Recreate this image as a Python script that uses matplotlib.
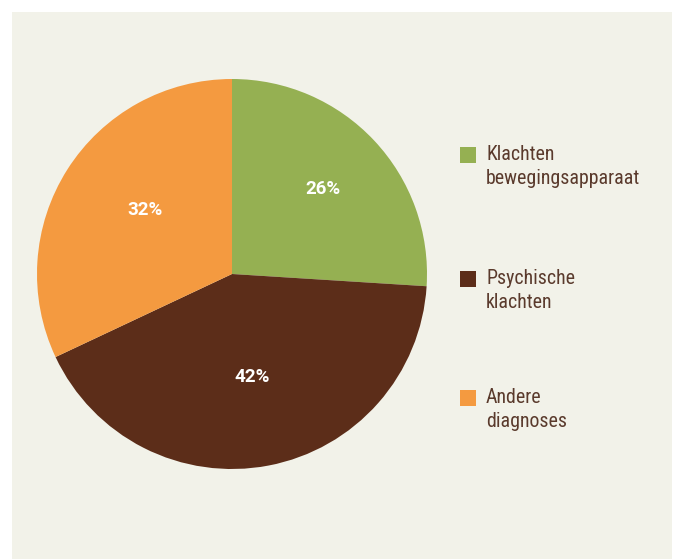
import numpy as np
import matplotlib.pyplot as plt
from matplotlib.patches import Rectangle

# data
categories = ["Klachten\nbewegingsapparaat", "Psychische\nklachten", "Andere\ndiagnoses"]
shares = [26, 42, 32]
colors = ["#95b052", "#5c2d19", "#f49a40"]

bg = "#f2f2e9"
text_color = "#5a3a2c"
plt.rcParams['font.family'] = ['Roboto Condensed', 'Roboto', 'DejaVu Sans']

W, H = 678, 559
fig = plt.figure(figsize=(W / 100, H / 100), dpi=100, facecolor="white")

# beige panel
fig.patches.append(Rectangle((12 / W, 0), 660 / W, 547 / H, transform=fig.transFigure,
                             facecolor=bg, edgecolor="none", zorder=-10))

# pie axes: center (232, 274), radius 195 px
cx, cy, r = 232, 274, 195
ax = fig.add_axes([(cx - r) / W, (H - cy - r) / H, 2 * r / W, 2 * r / H], zorder=5)
ax.patch.set_visible(False)
wedges, texts, autotexts = ax.pie(shares, colors=colors, startangle=90, counterclock=False,
                                  autopct=lambda p: f"{p:.0f}%", pctdistance=0.58,
                                  wedgeprops=dict(linewidth=0),
                                  textprops=dict(color="white", fontsize=13.5, fontweight="bold",
                                                 family=['Roboto', 'DejaVu Sans']))
ax.set_xlim(-1, 1)
ax.set_ylim(-1, 1)
ax.set_aspect("equal")

# nudge percentage labels a bit, like in the original
label_dist = [0.64, 0.54, 0.555]
label_turn = [0, 0, -4]  # degrees
for w, t, d, da in zip(wedges, autotexts, label_dist, label_turn):
    ang = np.deg2rad((w.theta1 + w.theta2) / 2 + da)
    t.set_position((d * np.cos(ang), d * np.sin(ang)))

# legend, drawn by hand
legend_y = [147, 271, 390]
for lab, col, y in zip(categories, colors, legend_y):
    fig.patches.append(Rectangle((460 / W, (H - y - 16) / H), 16 / W, 16 / H,
                                 transform=fig.transFigure, facecolor=col, edgecolor="none"))
    fig.text(486 / W, (H - y + 2) / H, lab, ha="left", va="top", fontsize=14.3,
             color=text_color, linespacing=1.34)

fig.savefig("out.png", dpi=100, facecolor="white")
